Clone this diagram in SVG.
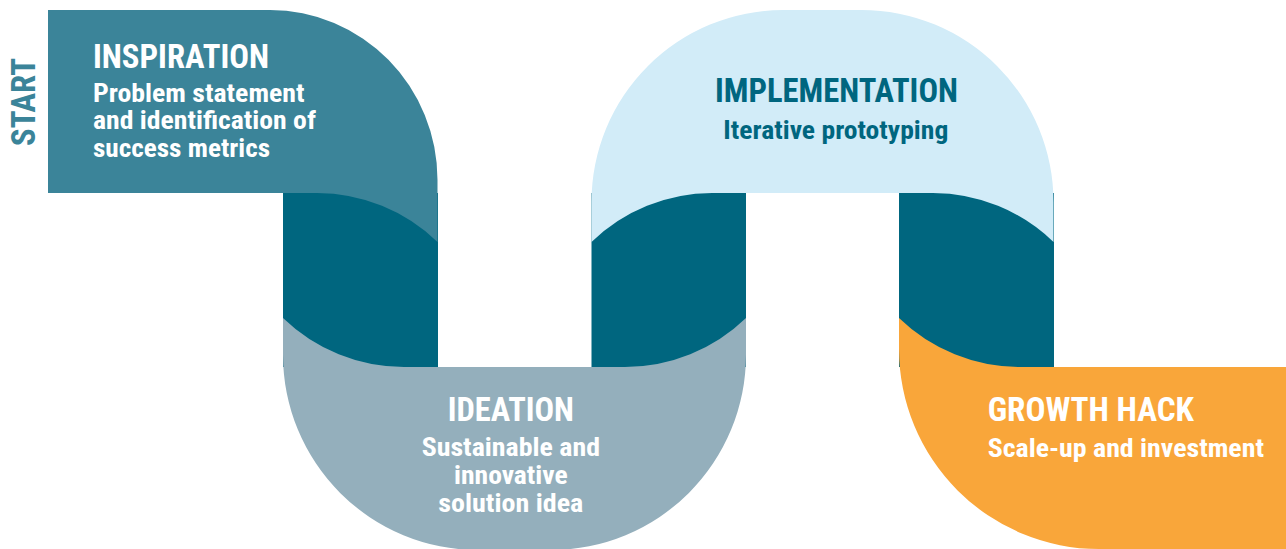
<svg xmlns="http://www.w3.org/2000/svg" width="1286" height="549" viewBox="0 0 1286 549">
  <style>
    .t { font-family: "Liberation Sans Narrow", "Roboto Condensed", "DejaVu Sans Condensed", "Liberation Sans", sans-serif; font-weight: bold; font-stretch: condensed; }
    .title { font-size: 33px; }
    .sub { font-size: 26px; }
    .w { fill: #FFFFFF; }
    .d { fill: #00667F; }
    .band { fill: #00667F; }
  </style>
  <rect width="1286" height="549" fill="#FFFFFF"/>
  <g id="connectors">
    <rect class="band" x="283" y="193" width="155" height="174"/>
    <rect class="band" x="591.5" y="193" width="154.5" height="174"/>
    <rect class="band" x="899" y="193" width="155" height="174"/>
  </g>
  <g id="start">
    <text class="t" fill="#3B8499" font-size="34" transform="translate(35,146) rotate(-90)" textLength="88" lengthAdjust="spacingAndGlyphs">START</text>
  </g>
  <g id="node-inspiration">
    <path fill="#3B8499" d="M48,10 H270 A167.5,170 0 0 1 437.5,180 V242 A174,174 0 0 0 317,193 H48 Z"/>
    <text class="t title w" x="93" y="67.7" textLength="176" lengthAdjust="spacingAndGlyphs">INSPIRATION</text>
    <text class="t sub w" x="93" y="101.7" textLength="211.5" lengthAdjust="spacingAndGlyphs">Problem statement</text>
    <text class="t sub w" x="93" y="129.3" textLength="223" lengthAdjust="spacingAndGlyphs">and identification of</text>
    <text class="t sub w" x="93" y="156.7" textLength="177" lengthAdjust="spacingAndGlyphs">success metrics</text>
  </g>
  <g id="node-implementation">
    <path fill="#D2ECF8" d="M591.5,242 V202 A192,192 0 0 1 783.5,10 H861.5 A192,192 0 0 1 1053.5,202 V242 A174,174 0 0 0 933,193 H712 A174,174 0 0 0 591.5,242 Z"/>
    <text class="t title d" x="715" y="101.7" textLength="243" lengthAdjust="spacingAndGlyphs">IMPLEMENTATION</text>
    <text class="t sub d" x="723.3" y="139.3" textLength="225" lengthAdjust="spacingAndGlyphs">Iterative prototyping</text>
  </g>
  <g id="node-ideation">
    <path fill="#94AFBC" d="M283,318 V355 A195,195 0 0 0 478,550 H551 A195,195 0 0 0 746,355 V318 A174,174 0 0 1 625,367 H404 A174,174 0 0 1 283,318 Z"/>
    <text class="t title w" x="447.7" y="420.7" textLength="126.3" lengthAdjust="spacingAndGlyphs">IDEATION</text>
    <text class="t sub w" x="421.7" y="455.8" textLength="178.3" lengthAdjust="spacingAndGlyphs">Sustainable and</text>
    <text class="t sub w" x="454" y="483.6" textLength="113.7" lengthAdjust="spacingAndGlyphs">innovative</text>
    <text class="t sub w" x="438.3" y="511.6" textLength="145" lengthAdjust="spacingAndGlyphs">solution idea</text>
  </g>
  <g id="node-growth">
    <path fill="#F9A63A" d="M899,318 V349 A200,200 0 0 0 1099,549 H1286 V367 H1020 A174,174 0 0 1 899,318 Z"/>
    <text class="t title w" x="987.7" y="420.7" textLength="206.3" lengthAdjust="spacingAndGlyphs">GROWTH HACK</text>
    <text class="t sub w" x="987.7" y="457.3" textLength="276.3" lengthAdjust="spacingAndGlyphs">Scale-up and investment</text>
  </g>
</svg>
